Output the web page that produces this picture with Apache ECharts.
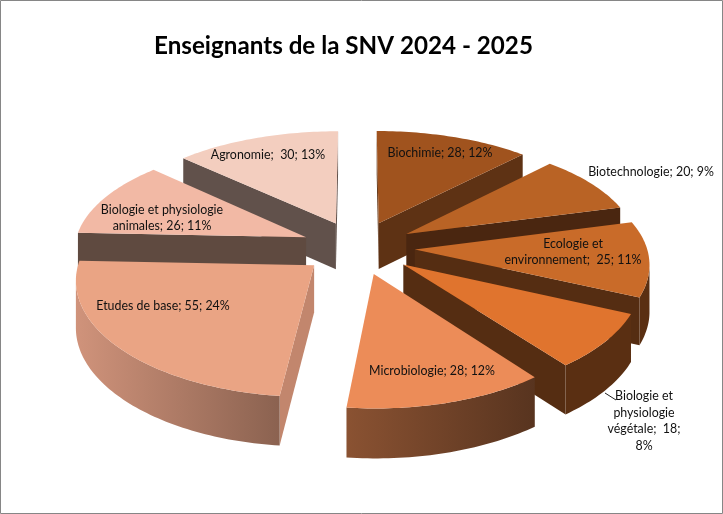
<!DOCTYPE html>
<html><head><meta charset="utf-8">
<style>html,body{margin:0;padding:0;background:#fff}#c{width:723px;height:514px}</style>
<script src="https://cdn.jsdelivr.net/npm/echarts@6/dist/echarts.min.js"></script>
</head><body><div id="c"></div>
<script>
const titleText = 'Enseignants de la SNV 2024 - 2025';
const categories = ['Biochimie','Biotechnologie','Ecologie et environnement','Biologie et physiologie végétale','Microbiologie','Etudes de base','Biologie et physiologie animales','Agronomie'];
const values = [28,20,25,18,28,55,26,30];
const labelLines = [
  ['Biochimie; {v}; {p}%'],
  ['Biotechnologie; {v}; {p}%'],
  ['Ecologie et','environnement;  {v}; {p}%'],
  ['Biologie et','physiologie','végétale;  {v};','{p}%'],
  ['Microbiologie; {v}; {p}%'],
  ['Etudes de base; {v}; {p}%'],
  ['Biologie et physiologie','animales; {v}; {p}%'],
  ['Agronomie;  {v}; {p}%']
];
// label anchors (text centre) — layout only
const labelAnchors = [[440,153],[651,172],[573,252],[644,421],[432,371],[163,306],[162,218],[268,155]];
const topColors  = ['#A0531E','#B96325','#C96B29','#E0742E','#EC8C58','#EAA484','#F2B9A5','#F3CEBF'];
const cutColors  = ['#5E3214','#4A2610','#552D12','#552D12','#58341F','#C2866D','#5F4A40','#61514B'];
const wallLeft   = ['#5E3214','#5E3214','#5A2F12','#5A2F12','#8A5232','#D0937B','#5F4A40','#61514B'];
const wallRight  = ['#5E3214','#5E3214','#5A2F12','#5A2F12','#58341F','#8B6250','#5F4A40','#61514B'];

// 3D view parameters
const CX=358, CY=247.4, A=232, B=109.7, PX=0.11, PY=0.128, D=46.5, EXPLODE=0.245;
function proj(x,y,z){
  return [CX + A*x/(1+PX*y), CY - B*y/(1+PY*y) + D*z*(1-0.06*y)];
}
const total = values.reduce((a,b)=>a+b,0);
let acc=0;
const slices = values.map((v,i)=>{
  const a0=acc/total*2*Math.PI; acc+=v; const a1=acc/total*2*Math.PI;
  return {i,v,a0,a1,mid:(a0+a1)/2};
});
const order = slices.slice().sort((s,t)=>Math.cos(t.mid)-Math.cos(s.mid));
function area(p){let s=0;for(let k=0;k<p.length;k++){const q=p[(k+1)%p.length];s+=p[k][0]*q[1]-q[0]*p[k][1];}return s/2;}

function renderItem(params, api){
  const s = order[params.dataIndex];
  const i = s.i;
  const ox=Math.sin(s.mid)*EXPLODE, oy=Math.cos(s.mid)*EXPLODE;
  const pt=(a,r,z)=>proj(ox+r*Math.sin(a),oy+r*Math.cos(a),z);
  const n=Math.max(8,Math.ceil((s.a1-s.a0)/0.02));
  const arc=[]; for(let k=0;k<=n;k++) arc.push(s.a0+(s.a1-s.a0)*k/n);
  const kids=[];
  let z2=params.dataIndex*10;
  const poly=(pts,fill)=>kids.push({type:'polygon',z2:z2++,shape:{points:pts},style:{fill,stroke:null}});
  // cut faces (only those turned to the viewer)
  [[s.a0,1],[s.a1,-1]].forEach(([a,sign])=>{
    const face=[pt(a,0,0),pt(a,1,0),pt(a,1,1),pt(a,0,1)];
    if(area(face)*sign<0) poly(face,cutColors[i]);
  });
  // outer wall, visible run only
  const run=arc.filter((a,k)=>{
    const b=arc[Math.min(k+1,n)], c=arc[Math.max(k-1,0)];
    return pt(b,1,0)[0]-pt(c,1,0)[0]<0;
  });
  if(run.length>1){
    const up=run.map(a=>pt(a,1,0)), dn=run.map(a=>pt(a,1,1)).reverse();
    const xs=up.map(p=>p[0]);
    const fill=new echarts.graphic.LinearGradient(Math.max(...xs),0,Math.min(...xs),0,
      [{offset:0,color:wallRight[i]},{offset:1,color:wallLeft[i]}],true);
    poly(up.concat(dn),fill);
  }
  // top face
  poly([pt(s.a0,0,0)].concat(arc.map(a=>pt(a,1,0))),topColors[i]);
  // data label
  const pct=Math.round(s.v/total*100);
  const text=labelLines[i].map(l=>l.replace('{v}',s.v).replace('{p}',pct)).join('\n');
  kids.push({type:'text',z2:1000,style:{text,x:labelAnchors[i][0],y:labelAnchors[i][1],
    align:'center',verticalAlign:'middle',fill:'#111',font:'12.4px Lato',lineHeight:16.5}});
  if(i===3) kids.push({type:'line',z2:1000,shape:{x1:605,y1:393,x2:616,y2:400},style:{stroke:'#222',lineWidth:1}});
  return {type:'group',children:kids};
}
const chart=echarts.init(document.getElementById('c'),null,{renderer:'canvas'});
chart.setOption({
  animation:false,
  backgroundColor:'#fff',
  title:{text:titleText,left:154,top:34.5,padding:0,textStyle:{fontFamily:'Lato',fontWeight:'bold',fontSize:24.2,color:'#000'}},
  graphic:[{type:'rect',shape:{x:0.5,y:0.5,width:722,height:513},style:{fill:'none',stroke:'#868686',lineWidth:1},silent:true}],
  series:[{type:'custom',coordinateSystem:'none',renderItem,silent:true,
    data:order.map(s=>({name:categories[s.i],value:[s.v]}))}]
});
</script></body></html>
